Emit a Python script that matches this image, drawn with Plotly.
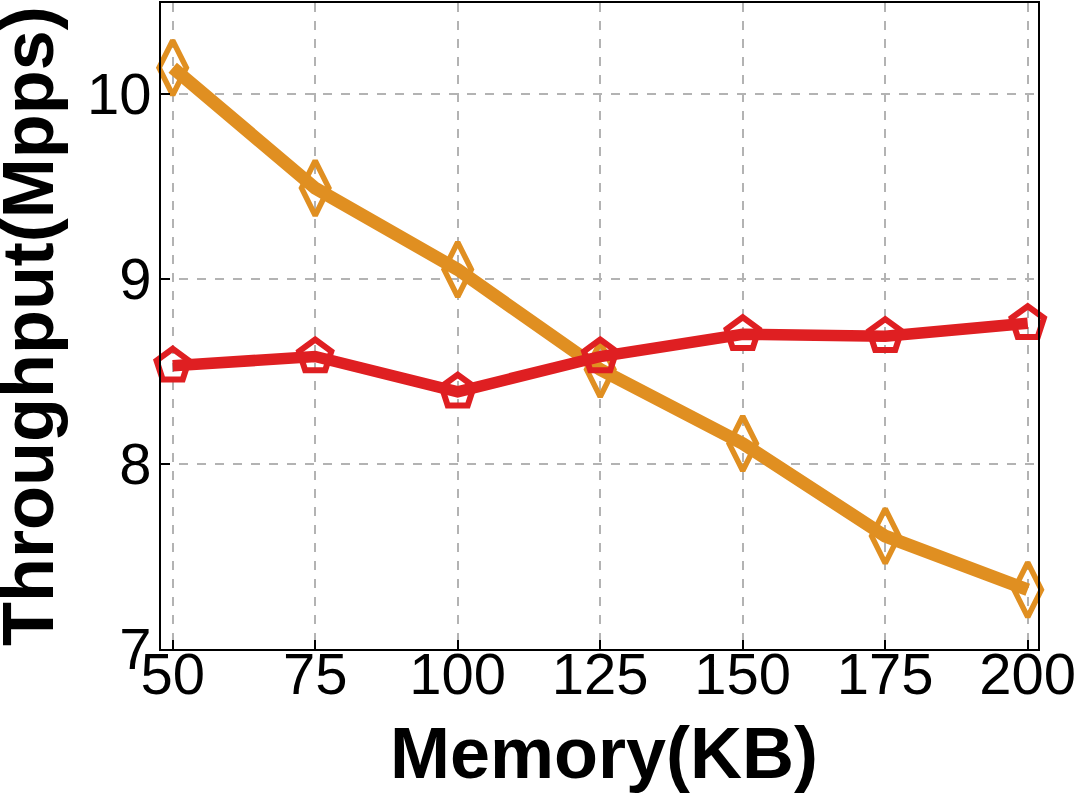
import plotly.graph_objects as go

memory_kb = [50, 75, 100, 125, 150, 175, 200]
orange_series = [10.14, 9.49, 9.05, 8.51, 8.11, 7.61, 7.32]
red_series = [8.53, 8.58, 8.39, 8.58, 8.70, 8.69, 8.76]
x_ticks = [50, 75, 100, 125, 150, 175, 200]
y_ticks = [7, 8, 9, 10]

ORANGE = "#E08F21"
RED = "#DF1F22"
FONT = "Liberation Sans, Arial, sans-serif"

fig = go.Figure()
fig.add_trace(go.Scatter(x=memory_kb, y=orange_series, mode="markers",
                         marker=dict(symbol="diamond-tall-open", size=39, color=ORANGE,
                                     line=dict(width=5.5, color=ORANGE)),
                         showlegend=False, cliponaxis=False))
fig.add_trace(go.Scatter(x=memory_kb, y=orange_series, mode="lines",
                         line=dict(color=ORANGE, width=13), showlegend=False, cliponaxis=False))
fig.add_trace(go.Scatter(x=memory_kb, y=red_series, mode="markers",
                         marker=dict(symbol="pentagon-open", size=34, color=RED,
                                     line=dict(width=6, color=RED)),
                         showlegend=False, cliponaxis=False))
fig.add_trace(go.Scatter(x=memory_kb, y=red_series, mode="lines",
                         line=dict(color=RED, width=11.5), showlegend=False, cliponaxis=False))

axis_common = dict(
    showline=True, linecolor="black", linewidth=2, mirror=True,
    ticks="inside", ticklen=9, tickwidth=2, tickcolor="black",
    showgrid=True, gridcolor="#b3b3b3", griddash="dash", gridwidth=1.5,
    zeroline=False, automargin=False,
    tickfont=dict(family=FONT, size=58, color="black"),
)

fig.update_xaxes(range=[47.95, 201.8], tickvals=x_ticks, ticktext=[str(v) for v in x_ticks],
                 ticklabelstandoff=-27, **axis_common)
fig.update_yaxes(range=[7.0, 10.49], tickvals=y_ticks, ticktext=[str(v) for v in y_ticks],
                 ticklabelstandoff=-4, **axis_common)

fig.add_annotation(text="<b>Memory(KB)</b>", xref="paper", yref="paper",
                   x=(604 - 161) / 877, y=(649 - 753) / 646,
                   xanchor="center", yanchor="middle", showarrow=False,
                   font=dict(family=FONT, size=72, color="black"))
fig.add_annotation(text="<b>Throughput(Mpps)</b>", xref="paper", yref="paper",
                   x=(28 - 161) / 877, y=(649 - 326) / 646, textangle=-90,
                   xanchor="center", yanchor="middle", showarrow=False,
                   font=dict(family=FONT, size=72, color="black"))

fig.update_layout(
    width=1080, height=798,
    margin=dict(l=161, r=42, t=3, b=149),
    plot_bgcolor="white", paper_bgcolor="white",
)

fig.write_html("out.html", config={"displayModeBar": False},
               post_script="document.body.style.margin='0';document.body.style.padding='0';")
